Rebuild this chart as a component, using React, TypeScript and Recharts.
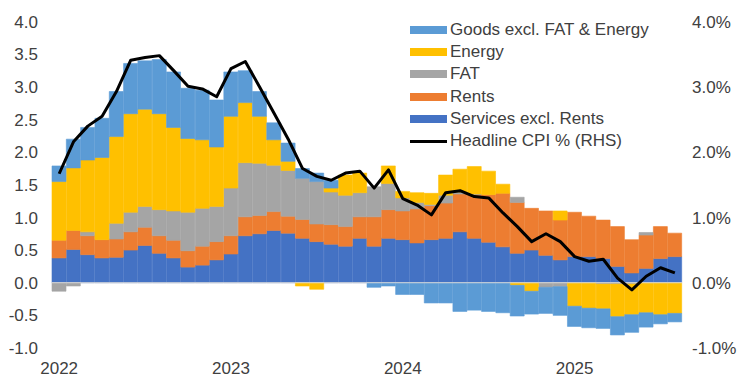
import React from 'react';
import { ComposedChart, Bar, Line, XAxis, YAxis, ReferenceLine, Legend } from 'recharts';

const FONT = '"Liberation Sans", Arial, sans-serif';
const TEXT = '#404040';

const months = [
  '2022-01','2022-02','2022-03','2022-04','2022-05','2022-06','2022-07','2022-08','2022-09','2022-10','2022-11','2022-12',
  '2023-01','2023-02','2023-03','2023-04','2023-05','2023-06','2023-07','2023-08','2023-09','2023-10','2023-11','2023-12',
  '2024-01','2024-02','2024-03','2024-04','2024-05','2024-06','2024-07','2024-08','2024-09','2024-10','2024-11','2024-12',
  '2025-01','2025-02','2025-03','2025-04','2025-05','2025-06','2025-07','2025-08',
];
const yearTicks = ['2022-01', '2023-01', '2024-01', '2025-01'];
const leftTicks = [-1, -0.5, 0, 0.5, 1, 1.5, 2, 2.5, 3, 3.5, 4];
const rightTicks = [-1, 0, 1, 2, 3, 4];

const services = [
  0.38, 0.51, 0.43, 0.38, 0.39, 0.50, 0.57, 0.45, 0.38, 0.24, 0.27, 0.35,
  0.44, 0.72, 0.75, 0.80, 0.76, 0.68, 0.63, 0.59, 0.56, 0.68, 0.56, 0.68,
  0.66, 0.61, 0.66, 0.68, 0.78, 0.68, 0.62, 0.55, 0.45, 0.50, 0.42, 0.35,
  0.40, 0.40, 0.37, 0.25, 0.15, 0.22, 0.37, 0.40,
];
const rents = [
  0.27, 0.29, 0.29, 0.28, 0.28, 0.28, 0.28, 0.27, 0.27, 0.25, 0.29, 0.28,
  0.28, 0.29, 0.28, 0.29, 0.26, 0.29, 0.27, 0.30, 0.30, 0.33, 0.45, 0.44,
  0.44, 0.52, 0.52, 0.54, 0.58, 0.67, 0.73, 0.82, 0.78, 0.64, 0.68, 0.61,
  0.68, 0.62, 0.59, 0.61, 0.51, 0.51, 0.49, 0.36,
];
const fat = [
  -0.13, -0.05, 0.06, 0.0, 0.24, 0.30, 0.32, 0.40, 0.45, 0.59, 0.58, 0.54,
  0.73, 0.83, 0.80, 0.71, 0.70, 0.63, 0.65, 0.50, 0.48, 0.37, 0.46, 0.40,
  0.20, 0.10, 0.02, 0.12, 0.03, 0.01, 0.0, 0.0, 0.08, 0.0, -0.07, -0.06,
  0.0, 0.0, -0.02, -0.02, -0.02, 0.04, 0.0, 0.0,
];
const energy = [
  0.90, 0.96, 1.10, 1.26, 1.33, 1.51, 1.49, 1.47, 1.28, 1.13, 1.05, 0.91,
  1.10, 0.92, 0.72, 0.39, 0.14, -0.05, -0.10, 0.06, 0.31, 0.30, 0.0, 0.27,
  0.10, 0.15, 0.17, 0.31, 0.35, 0.42, 0.36, 0.14, -0.04, -0.13, 0.0, 0.14,
  -0.36, -0.39, -0.38, -0.50, -0.47, -0.46, -0.49, -0.47,
];
const goods = [
  0.24, 0.44, 0.50, 0.60, 0.69, 0.77, 0.74, 0.83, 0.85, 0.77, 0.76, 0.72,
  0.68, 0.49, 0.38, 0.26, 0.28, 0.15, 0.13, 0.12, 0.0, 0.0, -0.07, -0.05,
  -0.18, -0.18, -0.31, -0.31, -0.44, -0.42, -0.44, -0.46, -0.47, -0.35, -0.40, -0.44,
  -0.31, -0.30, -0.30, -0.28, -0.27, -0.22, -0.14, -0.13,
];
const cpi = [
  1.67, 2.16, 2.40, 2.55, 2.93, 3.41, 3.45, 3.48, 3.25, 3.01, 2.97, 2.85,
  3.28, 3.39, 3.00, 2.60, 2.20, 1.75, 1.63, 1.57, 1.68, 1.71, 1.45, 1.73,
  1.29, 1.19, 1.04, 1.38, 1.41, 1.32, 1.30, 1.07, 0.86, 0.63, 0.75, 0.63,
  0.40, 0.33, 0.36, 0.07, -0.11, 0.10, 0.23, 0.15,
];

const COLORS = {
  goods: '#5B9BD5',
  energy: '#FFC000',
  fat: '#A5A5A5',
  rents: '#ED7D31',
  services: '#4472C4',
  cpi: '#000000',
};

const legendItems = [
  { name: 'Goods excl. FAT & Energy', color: COLORS.goods, kind: 'rect' },
  { name: 'Energy', color: COLORS.energy, kind: 'rect' },
  { name: 'FAT', color: COLORS.fat, kind: 'rect' },
  { name: 'Rents', color: COLORS.rents, kind: 'rect' },
  { name: 'Services excl. Rents', color: COLORS.services, kind: 'rect' },
  { name: 'Headline CPI % (RHS)', color: COLORS.cpi, kind: 'line' },
];

const data = months.map((m, i) => ({
  month: m,
  services: services[i],
  rents: rents[i],
  fat: fat[i],
  energy: energy[i],
  goods: goods[i],
  cpi: cpi[i],
}));

const renderLegend = () => (
  <div style={{ fontFamily: FONT, fontSize: 17, color: TEXT }}>
    {legendItems.map((it) => (
      <div key={it.name} style={{ display: 'flex', alignItems: 'center', height: 22.2, whiteSpace: 'nowrap' }}>
        <span
          style={{
            display: 'inline-block',
            width: 37,
            height: it.kind === 'line' ? 3 : 8,
            background: it.color,
            marginRight: 3,
          }}
        />
        <span>{it.name}</span>
      </div>
    ))}
  </div>
);

const seriesList = [
  { key: 'services', color: COLORS.services },
  { key: 'rents', color: COLORS.rents },
  { key: 'fat', color: COLORS.fat },
  { key: 'energy', color: COLORS.energy },
  { key: 'goods', color: COLORS.goods },
];

export default function App() {
  const tickStyle = { fontSize: 17, fill: TEXT, fontFamily: FONT };
  return (
    <div style={{ position: 'absolute', left: 0, top: 0, width: 748, height: 380, background: '#fff' }}>
      <ComposedChart
        width={748}
        height={380}
        data={data}
        stackOffset="sign"
        barCategoryGap={0}
        barGap={0}
        margin={{ top: 21.7, right: 0, bottom: 0, left: 0 }}
      >
        <XAxis
          dataKey="month"
          ticks={yearTicks}
          interval={0}
          tickFormatter={(v: string) => v.slice(0, 4)}
          axisLine={false}
          tickLine={false}
          tickSize={0}
          tickMargin={14}
          height={32}
          tick={tickStyle}
        />
        <YAxis
          yAxisId="left"
          domain={[-1, 4]}
          ticks={leftTicks}
          interval={0}
          allowDataOverflow
          tickFormatter={(v: number) => v.toFixed(1)}
          axisLine={false}
          tickLine={false}
          tickSize={0}
          tickMargin={14}
          width={52}
          tick={tickStyle}
        />
        <YAxis
          yAxisId="right"
          orientation="right"
          domain={[-1, 4]}
          ticks={rightTicks}
          interval={0}
          allowDataOverflow
          tickFormatter={(v: number) => v.toFixed(1) + '%'}
          axisLine={false}
          tickLine={false}
          tickSize={0}
          tickMargin={10}
          width={66}
          tick={tickStyle}
        />
        {seriesList.map((s) => (
          <Bar
            key={s.key}
            yAxisId="left"
            dataKey={s.key}
            stackId="a"
            fill={s.color}
            stroke={s.color}
            strokeWidth={0.6}
            isAnimationActive={false}
          />
        ))}
        <ReferenceLine yAxisId="left" y={0} stroke="#D9D9D9" strokeWidth={1} />
        <Line
          yAxisId="right"
          dataKey="cpi"
          type="linear"
          stroke={COLORS.cpi}
          strokeWidth={3}
          strokeLinejoin="round"
          dot={false}
          activeDot={false}
          isAnimationActive={false}
        />
        <Legend
          content={renderLegend}
          layout="vertical"
          align="center"
          verticalAlign="middle"
          wrapperStyle={{ left: 410, top: 19, width: 270 }}
        />
      </ComposedChart>
    </div>
  );
}
